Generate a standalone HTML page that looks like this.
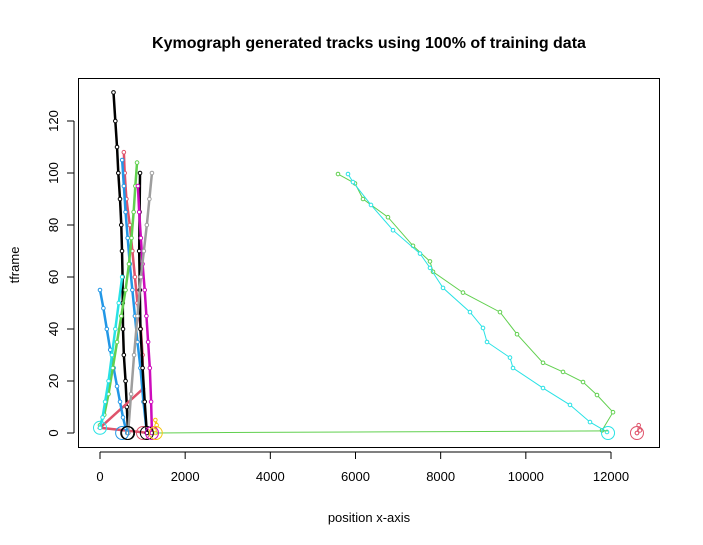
<!DOCTYPE html>
<html><head><meta charset="utf-8">
<style>
body{margin:0;background:#fff;}
svg{display:block;font-family:"Liberation Sans",Arial,sans-serif;}
</style></head>
<body>
<svg id="chart" width="703" height="545" viewBox="0 0 703 545">
<text x="369" y="48" text-anchor="middle" font-size="16" font-weight="bold">Kymograph generated tracks using 100% of training data</text>
<rect x="78.5" y="78.5" width="581" height="369" fill="none" stroke="#000"/>
<text x="369" y="522" text-anchor="middle" font-size="13">position x-axis</text>
<text transform="translate(19,265) rotate(-90)" text-anchor="middle" font-size="13">tframe</text>
<g id="axes"></g>
<g id="tracks"></g>
</svg>
<script>
const xTicks=[0,2000,4000,6000,8000,10000,12000];
const yTicks=[0,20,40,60,80,100,120];
const trackColors=["#000000","#DF536B","#2297E6","#2297E6","#61D04F","#28E2E5","#000000","#CD0BBC","#9E9E9E","#F5C710","#61D04F","#28E2E5","#DF536B","#61D04F"];
const trackX=[
[317,360,400,430,470,500,517,530,535,540,560,600,630,660],
[560,580,620,700,760,820,880,960,1000,1010,0,1150],
[520,560,600,650,700,760,820,880,950,1020,1100],
[0,80,160,240,320,400,470,540,600,640],
[870,830,790,740,680,600,500,400,300,200,100,0],
[520,440,360,280,200,120,60,0],
[940,930,920,935,950,1000,1050,1100],
[890,920,960,1000,1050,1090,1130,1170,1200,1220],
[1220,1160,1100,1030,960,880,800,730,660],
[1300,1330,1280,1310],
[5589,5988,6176,6763,7350,7749,7820,8524,9393,9793,10403,10873,11343,11671,12047,11789],
[5824,5941,6364,6881,7515,7749,8055,8689,8994,9088,9628,9699,10403,11037,11507,11906],
[12610,12680,12650,12610],
[1300,3000,6000,9000,11930]
];
const trackY=[
[131,120,110,100,90,80,70,60,50,40,30,20,10,0],
[108,100,90,80,70,60,50,40,30,17,2,0],
[105,95,85,75,65,55,45,35,25,12,0],
[55,48,40,32,25,18,12,6,2,0],
[104,95,85,75,65,55,45,35,25,15,7,3],
[60,50,40,30,20,12,6,2],
[100,85,70,55,40,25,12,0],
[95,85,75,65,55,45,35,25,12,0],
[100,90,80,70,60,45,30,15,0],
[5,3,1,0],
[99.6,96,90,83,72,66,62,54,46.5,38,27,23.5,19.6,14.6,8,1],
[99.6,96.5,87.7,78,69,63.5,55.8,46.5,40.4,35,29,25,17.3,10.8,4.2,0.4],
[0,1,3,0],
[0,0.2,0.4,0.6,0.8]
];
const startX=[0,520,640,660,1010,1100,1220,1310,11930,12610];
const startCol=["#28E2E5","#2297E6","#000000","#000000","#DF536B","#000000","#CD0BBC","#F5C710","#28E2E5","#DF536B"];
const startY=[2,0,0,0,0,0,0,0,0,0];
const sx=v=>100+v*0.042583;
const sy=v=>433-v*2.6;
const NS="http://www.w3.org/2000/svg";
const axes=document.getElementById('axes');
function mk(tag,attrs,parent){const e=document.createElementNS(NS,tag);for(const k in attrs)e.setAttribute(k,attrs[k]);parent.appendChild(e);return e;}
const xl=mk('line',{x1:sx(0),x2:sx(12000),y1:452,y2:452,stroke:'#000'},axes);


xTicks.forEach(t=>{
  const l=mk('line',{x1:sx(t),x2:sx(t),y1:452,y2:459,stroke:'#000'},axes);
  
  
  const tx=mk('text',{x:sx(t),y:481,'text-anchor':'middle','font-size':13},axes);
  tx.textContent=t;
  
  
});
const yl=mk('line',{x1:74,x2:74,y1:sy(0),y2:sy(120),stroke:'#000'},axes);


yTicks.forEach(t=>{
  const l=mk('line',{x1:67,x2:74,y1:sy(t),y2:sy(t),stroke:'#000'},axes);
  
  
  const tx=mk('text',{x:0,y:0,'text-anchor':'middle','font-size':13,transform:`translate(${58},${sy(t)}) rotate(-90)`},axes);
  tx.textContent=t;
  
  
});
const tr=document.getElementById('tracks');
trackX.forEach((xs,i)=>{
  const g=mk('g',{},tr);
  
  
  const pts=xs.map((x,j)=>sx(x)+','+sy(trackY[i][j])).join(' ');
  const dense=i<10;
  mk('polyline',{points:pts,fill:'none',stroke:trackColors[i],'stroke-width':dense?2.5:1},g);
  if(i!==13){
    xs.forEach((x,j)=>{
      const c=mk('circle',{cx:sx(x),cy:sy(trackY[i][j]),r:1.8,fill:'#fff',stroke:trackColors[i],'stroke-width':1},g);
      
      
    });
  }
});
startX.forEach((x,i)=>{
  const c=mk('circle',{cx:sx(x),cy:sy(startY[i]),r:6.5,fill:'none',stroke:startCol[i],'stroke-width':1},tr);
  
  
});
</script>
</body></html>
